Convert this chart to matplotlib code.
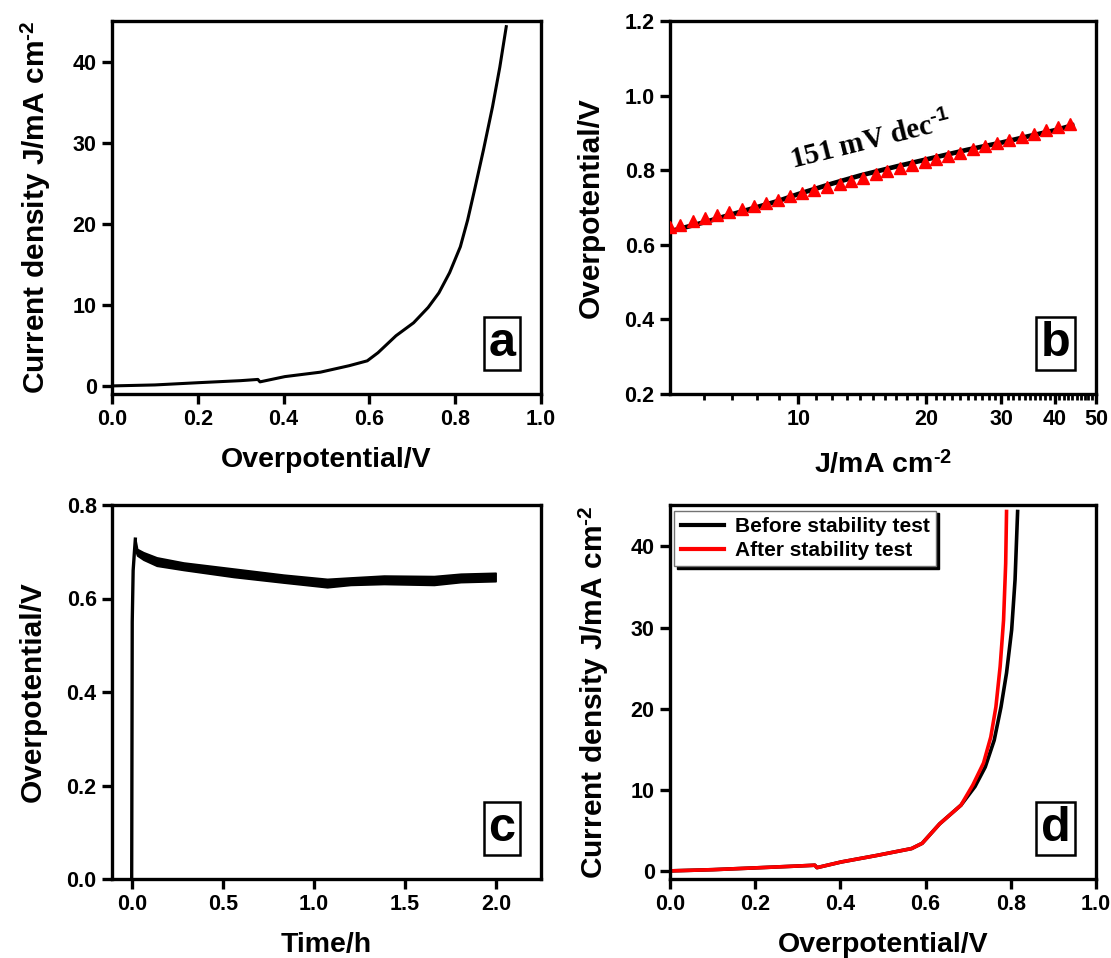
import matplotlib
matplotlib.use("Agg")
import matplotlib.pyplot as plt
from matplotlib.ticker import FixedLocator, FixedFormatter, NullFormatter

plt.rcParams["font.family"] = ["Liberation Sans", "DejaVu Sans"]
plt.rcParams["font.weight"] = "bold"
plt.rcParams["mathtext.fontset"] = "custom"
plt.rcParams["mathtext.rm"] = "Liberation Sans:bold"
plt.rcParams["mathtext.bf"] = "Liberation Sans:bold"
plt.rcParams["mathtext.it"] = "Liberation Serif:bold"
plt.rcParams["axes.linewidth"] = 2.4

# (a) polarization curve
lsv_eta = [0.0, 0.10, 0.202, 0.30, 0.34, 0.345, 0.403, 0.486, 0.553, 0.595, 0.62, 0.662,
           0.703, 0.737, 0.762, 0.787, 0.812, 0.829, 0.845, 0.866, 0.887, 0.904, 0.919]
lsv_j = [0.0, 0.12, 0.4, 0.65, 0.8, 0.5, 1.15, 1.7, 2.5, 3.1, 4.1, 6.2,
         7.8, 9.7, 11.5, 14.0, 17.2, 20.5, 24.2, 29.2, 34.5, 39.4, 44.4]

# (b) Tafel plot: measured curve and triangles
tafel_j = [5.0, 6.0, 7.0, 8.0, 9.0, 10.0, 12.0, 14.0, 17.0, 20.0, 25.0, 30.0, 35.0, 40.0, 44.0]
tafel_eta = [0.636, 0.660, 0.682, 0.701, 0.718, 0.736, 0.764, 0.786, 0.810, 0.829,
             0.855, 0.874, 0.892, 0.907, 0.920]
fit_j = [5.0, 5.29, 5.66, 6.04, 6.44, 6.89, 7.36, 7.88, 8.40, 8.96, 9.55, 10.2, 10.9,
         11.7, 12.5, 13.3, 14.2, 15.2, 16.2, 17.3, 18.5, 19.8, 21.1, 22.5, 24.0, 25.7,
         27.5, 29.3, 31.3, 33.5, 35.7, 38.2, 40.8, 43.4]
fit_eta = [0.647, 0.654, 0.663, 0.671, 0.679, 0.688, 0.696, 0.705, 0.713, 0.721, 0.730,
           0.738, 0.747, 0.756, 0.764, 0.772, 0.780, 0.789, 0.797, 0.805, 0.814, 0.823,
           0.831, 0.839, 0.847, 0.856, 0.865, 0.873, 0.881, 0.890, 0.898, 0.907, 0.915,
           0.923]
tafel_label = "151 mV dec$^{\\mathit{\\text{-}1}}$"

# (c) chronopotentiometry
rise_t = [0.0, 0.003, 0.008, 0.015, 0.02]
rise_eta = [0.0, 0.55, 0.66, 0.70, 0.727]
band_t = [0.02, 0.03, 0.064, 0.137, 0.284, 0.559, 0.833, 1.072, 1.20, 1.383, 1.658, 1.804, 1.996]
band_hi = [0.727, 0.706, 0.699, 0.688, 0.677, 0.664, 0.651, 0.642, 0.645, 0.649, 0.648, 0.653, 0.655]
band_lo = [0.703, 0.692, 0.683, 0.670, 0.661, 0.646, 0.634, 0.624, 0.629, 0.631, 0.629, 0.635, 0.637]

# (d) polarization before / after stability test
before_eta = [0.0, 0.10, 0.2, 0.30, 0.34, 0.345, 0.402, 0.485, 0.567, 0.592, 0.633, 0.683,
              0.716, 0.740, 0.761, 0.777, 0.790, 0.802, 0.810, 0.816]
before_j = [0.0, 0.15, 0.37, 0.6, 0.7, 0.4, 1.1, 1.9, 2.75, 3.4, 5.8, 8.1,
            10.4, 12.8, 16.1, 20.2, 24.4, 29.7, 35.9, 44.3]
after_eta = [0.0, 0.10, 0.2, 0.30, 0.34, 0.345, 0.402, 0.485, 0.567, 0.592, 0.633, 0.683,
             0.711, 0.736, 0.753, 0.765, 0.775, 0.783, 0.788, 0.790]
after_j = [0.0, 0.15, 0.37, 0.6, 0.7, 0.4, 1.1, 1.9, 2.75, 3.4, 5.8, 8.1,
           10.6, 13.3, 16.5, 20.2, 25.2, 30.9, 37.9, 44.3]
legend_labels = ["Before stability test", "After stability test"]

W, H = 1111, 958
fig = plt.figure(figsize=(W / 100, H / 100), dpi=100)


def box(l, r, t, b):
    return [l / W, 1 - b / H, (r - l) / W, (b - t) / H]


ax_a = fig.add_axes(box(112, 541, 21, 394))
ax_b = fig.add_axes(box(670, 1096, 21, 394))
ax_c = fig.add_axes(box(112, 541, 505, 879))
ax_d = fig.add_axes(box(670, 1096, 505, 879))

TICK = 15.5
LABEL = 20.5
YLABEL = 21.5
J_UNIT = "Current density J/mA cm$^{\\text{-2}}$"


def style(ax):
    ax.tick_params(which="major", direction="out", length=7, width=2.4,
                   labelsize=TICK, pad=4)
    ax.tick_params(which="minor", direction="out", length=4, width=2.0)
    for lab in ax.get_xticklabels() + ax.get_yticklabels():
        lab.set_fontweight("bold")


def panel_tag(ax, letter):
    ax.text(0.94, 0.075, letter, transform=ax.transAxes, ha="right", va="bottom",
            fontsize=35, fontweight="bold",
            bbox=dict(boxstyle="square,pad=0.09", fc="white", ec="black", lw=1.8))


# (a)
ax_a.plot(lsv_eta, lsv_j, color="black", lw=2.2)
ax_a.set_xlim(0, 1.0)
ax_a.set_ylim(-1.0, 45.1)
ax_a.set_xticks([0.0, 0.2, 0.4, 0.6, 0.8, 1.0])
ax_a.set_yticks([0, 10, 20, 30, 40])
ax_a.set_xlabel("Overpotential/V", fontsize=LABEL, fontweight="bold", labelpad=12)
ax_a.set_ylabel(J_UNIT, fontsize=YLABEL, fontweight="bold", labelpad=14)
style(ax_a)
panel_tag(ax_a, "a")

# (b)
ax_b.plot(tafel_j, tafel_eta, color="black", lw=3.4, zorder=2)
ax_b.plot(fit_j, fit_eta, ls="none", marker="^", ms=8, color="red", zorder=3)
ax_b.set_xscale("log")
ax_b.set_xlim(5, 50)
ax_b.set_ylim(0.2, 1.2)
ax_b.set_yticks([0.2, 0.4, 0.6, 0.8, 1.0, 1.2])
ax_b.set_yticklabels(["0.2", "0.4", "0.6", "0.8", "1.0", "1.2"])
major_b = [10, 20, 30, 40, 50]
ax_b.xaxis.set_major_locator(FixedLocator(major_b))
ax_b.xaxis.set_major_formatter(FixedFormatter([str(v) for v in major_b]))
ax_b.xaxis.set_minor_locator(FixedLocator([v for v in range(6, 50) if v % 10]))
ax_b.xaxis.set_minor_formatter(NullFormatter())
ax_b.set_xlabel("J/mA cm$^{\\text{-2}}$", fontsize=LABEL, fontweight="bold", labelpad=14)
ax_b.set_ylabel("Overpotential/V", fontsize=YLABEL, fontweight="bold", labelpad=14)
ax_b.text(14.8, 0.878, tafel_label, family="Liberation Serif", fontsize=21,
          fontweight="bold", rotation=14, ha="center", va="center")
style(ax_b)
panel_tag(ax_b, "b")

# (c)
ax_c.plot(rise_t, rise_eta, color="black", lw=2.4, solid_joinstyle="miter")
ax_c.fill_between(band_t, band_lo, band_hi, color="black", lw=1.2, edgecolor="black")
ax_c.set_xlim(-0.108, 2.245)
ax_c.set_ylim(0.0, 0.8)
ax_c.set_xticks([0.0, 0.5, 1.0, 1.5, 2.0])
ax_c.set_yticks([0.0, 0.2, 0.4, 0.6, 0.8])
ax_c.set_xlabel("Time/h", fontsize=LABEL, fontweight="bold", labelpad=12)
ax_c.set_ylabel("Overpotential/V", fontsize=YLABEL, fontweight="bold", labelpad=14)
style(ax_c)
panel_tag(ax_c, "c")

# (d)
ax_d.plot(before_eta, before_j, color="black", lw=2.6, label=legend_labels[0])
ax_d.plot(after_eta, after_j, color="red", lw=2.6, label=legend_labels[1])
ax_d.set_xlim(0, 1.0)
ax_d.set_ylim(-1.0, 45.1)
ax_d.set_xticks([0.0, 0.2, 0.4, 0.6, 0.8, 1.0])
ax_d.set_yticks([0, 10, 20, 30, 40])
ax_d.set_xlabel("Overpotential/V", fontsize=LABEL, fontweight="bold", labelpad=12)
ax_d.set_ylabel(J_UNIT, fontsize=YLABEL, fontweight="bold", labelpad=14)
leg = ax_d.legend(loc="upper left", bbox_to_anchor=(0.01, 0.985), borderaxespad=0,
                  prop=dict(family="Liberation Sans", weight="bold", size=15),
                  handlelength=2.1, handletextpad=0.5, labelspacing=0.25, borderpad=0.3,
                  fancybox=False, framealpha=1, edgecolor="0.45",
                  shadow=dict(color="black", alpha=1))
leg.get_frame().set_linewidth(1.0)
for ln in leg.get_lines():
    ln.set_linewidth(3)
style(ax_d)
panel_tag(ax_d, "d")

fig.savefig("out.png", dpi=100)
